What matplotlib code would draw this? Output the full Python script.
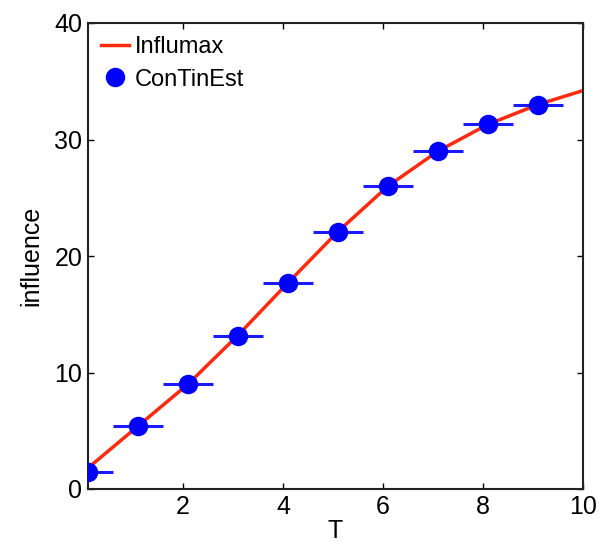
import matplotlib.pyplot as plt

plt.rcParams['font.family'] = ['Liberation Sans', 'DejaVu Sans']

# Influmax curve
line_t = [0.1, 1.1, 2.1, 3.1, 4.1, 5.1, 6.1, 7.1, 8.1, 9.1, 10.0]
line_inf = [1.8, 5.4, 9.0, 13.2, 17.7, 22.1, 26.0, 29.0, 31.3, 33.0, 34.2]

# ConTinEst estimates
est_t = [0.1, 1.1, 2.1, 3.1, 4.1, 5.1, 6.1, 7.1, 8.1, 9.1]
est_inf = [1.5, 5.4, 9.0, 13.1, 17.7, 22.1, 26.0, 29.0, 31.3, 33.0]
est_err = [0.5, 0.5, 0.5, 0.5, 0.5, 0.5, 0.5, 0.5, 0.5, 0.5]

fig = plt.figure(figsize=(6.03, 5.55), dpi=100)
ax = fig.add_axes([88 / 603, 1 - 489 / 555, (583 - 88) / 603, (489 - 23) / 555])

ax.plot(line_t, line_inf, color='#ff2a10', linewidth=2.5, label='Influmax', zorder=2)
ax.errorbar(est_t, est_inf, xerr=est_err, fmt='none', ecolor='#1a1aff', elinewidth=2.2,
            capsize=0, zorder=3)
ax.plot(est_t, est_inf, 'o', color='blue', markersize=13, linestyle='none',
        label='ConTinEst', zorder=4)

ax.set_xlim(0.1, 10)
ax.set_ylim(0, 40)
ax.set_xticks([2, 4, 6, 8, 10])
ax.set_yticks([0, 10, 20, 30, 40])
ax.tick_params(direction='in', length=4, width=1, labelsize=18, top=True, right=True, pad=4)

for s in ax.spines.values():
    s.set_linewidth(1.5)
    s.set_color('#222222')

ax.set_xlabel('T', fontsize=18, labelpad=0)
ax.set_ylabel('influence', fontsize=18, labelpad=8)

ax.legend(loc='upper left', frameon=False, fontsize=17, handlelength=1.2,
          handletextpad=0.25, borderaxespad=0.15, labelspacing=0.45)

plt.savefig('out.png', dpi=100)
